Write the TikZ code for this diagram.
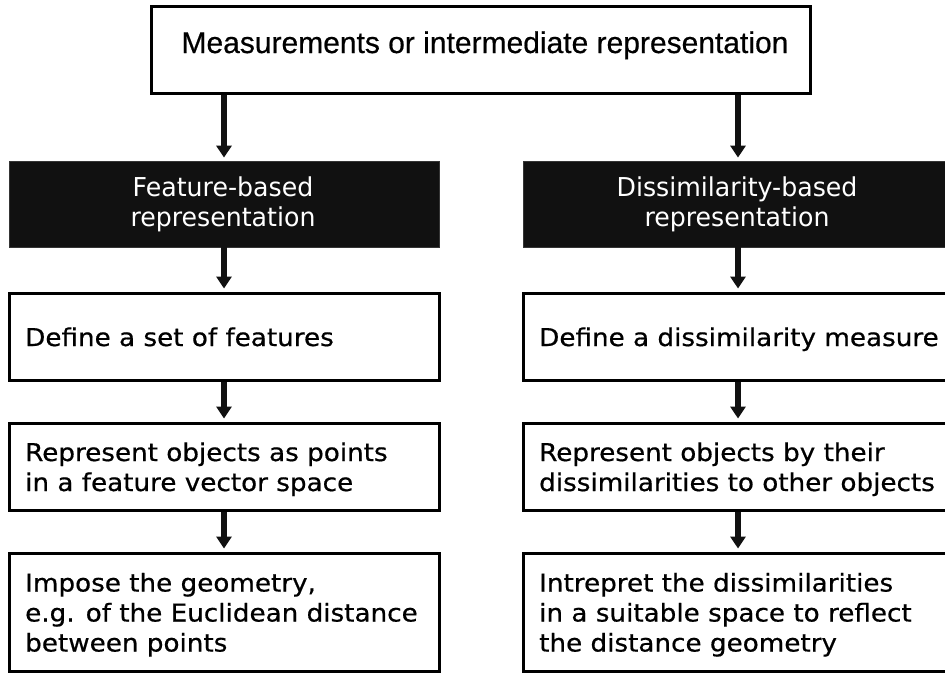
\documentclass[tikz,border=0pt]{standalone}
\usepackage{fontspec}
\usetikzlibrary{arrows.meta}
\newfontfamily\bodyfont[FakeStretch=1.07,FakeBold=0.6]{DejaVu Sans}
\newfontfamily\lightfont[FakeStretch=0.97]{DejaVu Sans}
\newfontfamily\headfont[FakeBold=0.5]{Liberation Sans}
\definecolor{boxblack}{HTML}{111111}

\tikzset{
  box/.style={draw=black, line width=3pt, fill=white, rectangle, inner sep=0pt},
  darkbox/.style={draw=boxblack!85!white, line width=0.8pt, fill=boxblack, rectangle, inner sep=0pt},
  txt/.style={inner sep=0pt, font=\bodyfont\fontsize{24.5}{30}\selectfont, text=black},
  wtxt/.style={inner sep=0pt, font=\lightfont\fontsize{26}{30}\selectfont, text=white},
  htxt/.style={inner sep=0pt, font=\headfont\fontsize{30}{36}\selectfont, text=black},
  flow/.style={line width=5.5pt, draw=boxblack, -{Triangle[width=15pt,length=12pt]}, shorten >=3pt}
}
% stacked lines: first-line baseline is the box baseline
\newcommand\leftlines[1]{\vtop{\baselineskip=30pt\lineskiplimit=-20pt\halign{##\hfil\cr#1\crcr}}}
\newcommand\midlines[1]{\vtop{\baselineskip=29.5pt\lineskiplimit=-20pt\halign{\hfil##\hfil\cr#1\crcr}}}

\begin{document}
\begin{tikzpicture}[x=1pt, y=-1pt]
  \clip (0,0) rectangle (945,673);
  \fill[white] (0,0) rectangle (945,673);

  % source box
  \node[box, minimum width=659pt, minimum height=87pt] (top) at (480.5,49.5) {};
  \node[htxt, anchor=base] (toptxt) at (485,53) {Measurements or intermediate representation};

  % the two representation headers
  \node[darkbox, minimum width=430pt, minimum height=86pt] (fb) at (224,204) {};
  \node[darkbox, minimum width=430pt, minimum height=86pt] (db) at (738,204) {};
  \node[wtxt, anchor=base] (fbtxt) at (223,196.5) {\midlines{Feature-based\cr representation}};
  \node[wtxt, anchor=base] (dbtxt) at (737,196.5) {\midlines{Dissimilarity-based\cr representation}};

  % feature-based steps
  \node[box, minimum width=430pt, minimum height=87pt] (l1) at (224,336.5) {};
  \node[box, minimum width=430pt, minimum height=87pt] (l2) at (224,466.5) {};
  \node[box, minimum width=430pt, minimum height=118.5pt] (l3) at (224,612.25) {};
  \node[txt, anchor=base west] (l1txt) at (25,346) {Define a set of features};
  \node[txt, anchor=base west] (l2txt) at (25,461) {\leftlines{Represent objects as points\cr in a feature vector space}};
  \node[txt, anchor=base west] (l3txt) at (25,591.5) {\leftlines{Impose the geometry,\cr e.g. of the Euclidean distance\cr between points}};

  % dissimilarity-based steps
  \node[box, minimum width=430pt, minimum height=87pt] (r1) at (738,336.5) {};
  \node[box, minimum width=430pt, minimum height=87pt] (r2) at (738,466.5) {};
  \node[box, minimum width=430pt, minimum height=118.5pt] (r3) at (738,612.25) {};
  \node[txt, anchor=base west] (r1txt) at (539,346) {Define a dissimilarity measure};
  \node[txt, anchor=base west] (r2txt) at (539,461) {\leftlines{Represent objects by their\cr dissimilarities to other objects}};
  \node[txt, anchor=base west] (r3txt) at (539,591.5) {\leftlines{Intrepret the dissimilarities\cr in a suitable space to reflect\cr the distance geometry}};

  % connectors
  \draw[flow] (top.south -| fb.north) -- (fb.north);
  \draw[flow] (top.south -| db.north) -- (db.north);
  \draw[flow] (fb.south) -- (l1.north);
  \draw[flow] (l1.south) -- (l2.north);
  \draw[flow] (l2.south) -- (l3.north);
  \draw[flow] (db.south) -- (r1.north);
  \draw[flow] (r1.south) -- (r2.north);
  \draw[flow] (r2.south) -- (r3.north);
\end{tikzpicture}
\end{document}
